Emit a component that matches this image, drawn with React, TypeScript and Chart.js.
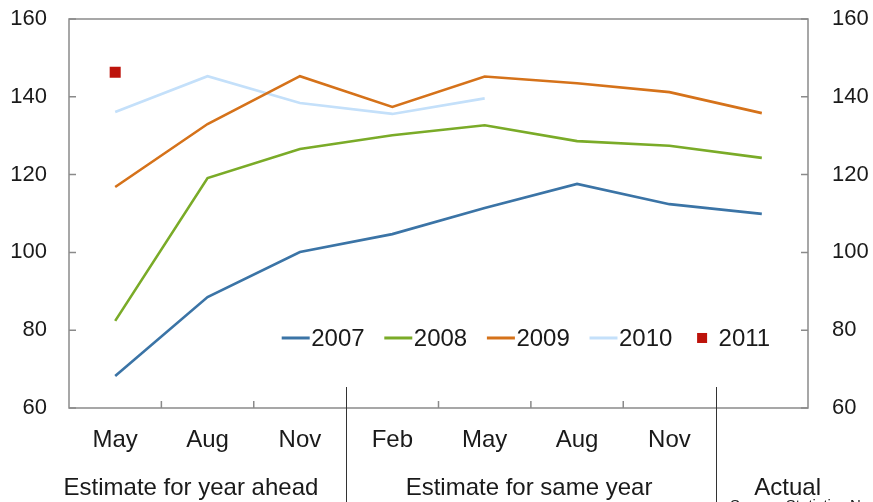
import React, { useEffect, useRef } from 'react';
import { Chart, registerables } from 'chart.js';

Chart.register(...registerables);

const categories = ['May', 'Aug', 'Nov', 'Feb', 'May', 'Aug', 'Nov', ''];
const groupLabels = ['Estimate for year ahead', 'Estimate for same year', 'Actual'];
const groupCenters = [0.82, 4.48, 7.28];
const dividers = [2.5, 6.5];
const yTicks = [60, 80, 100, 120, 140, 160];

const seriesNames = ['2007', '2008', '2009', '2010', '2011'];
const s2007 = [68.2, 88.5, 100.1, 104.7, 111.4, 117.6, 112.4, 109.9];
const s2008 = [82.4, 119.1, 126.6, 130.1, 132.7, 128.6, 127.4, 124.3];
const s2009 = [116.8, 133.0, 145.3, 137.4, 145.2, 143.5, 141.2, 135.8];
const s2010 = [136.1, 145.3, 138.4, 135.6, 139.6, null, null, null];
const s2011 = [146.3, null, null, null, null, null, null, null];
const colors = ['#3b74a6', '#7aab28', '#d5721a', '#c4e0fa', '#bd130b'];

const FONT = '"Liberation Sans", Arial, sans-serif';
const TEXT = '#1a1a1a';
const AXIS = '#8a8a8a';

const decorPlugin = {
  id: 'decor',
  beforeDatasetsDraw(chart: any) {
    const { ctx, chartArea } = chart;
    const { left, right, top, bottom } = chartArea;
    const xs = chart.scales.x;
    const ys = chart.scales.y;
    ctx.save();
    ctx.strokeStyle = AXIS;
    ctx.lineWidth = 1.5;
    ctx.strokeRect(left, top, right - left, bottom - top);
    ctx.beginPath();
    for (const t of yTicks) {
      const py = ys.getPixelForValue(t);
      ctx.moveTo(left, py);
      ctx.lineTo(left + 7, py);
      ctx.moveTo(right, py);
      ctx.lineTo(right - 7, py);
    }
    for (let i = 0; i < categories.length - 1; i++) {
      const b = i + 0.5;
      if (dividers.includes(b)) continue;
      const px = xs.getPixelForValue(b);
      ctx.moveTo(px, bottom);
      ctx.lineTo(px, bottom - 7);
    }
    ctx.stroke();
    ctx.restore();
  },
  afterDraw(chart: any) {
    const { ctx, chartArea, height } = chart;
    const { bottom } = chartArea;
    const xs = chart.scales.x;
    const ys = chart.scales.y;
    ctx.save();
    // dividers
    ctx.strokeStyle = '#333333';
    ctx.lineWidth = 1;
    ctx.beginPath();
    for (const d of dividers) {
      const px = Math.round(xs.getPixelForValue(d)) + 0.5;
      ctx.moveTo(px, bottom - 21);
      ctx.lineTo(px, height);
    }
    ctx.stroke();
    // group labels
    ctx.fillStyle = TEXT;
    ctx.font = `24px ${FONT}`;
    ctx.textAlign = 'center';
    ctx.textBaseline = 'alphabetic';
    groupLabels.forEach((g, i) => {
      ctx.fillText(g, xs.getPixelForValue(groupCenters[i]), 495);
    });
    // legend
    const ly = ys.getPixelForValue(78);
    ctx.textAlign = 'left';
    ctx.textBaseline = 'middle';
    seriesNames.forEach((name, i) => {
      const x0 = 281.7 + 102.6 * i;
      if (i < 4) {
        ctx.strokeStyle = colors[i];
        ctx.lineWidth = 3;
        ctx.beginPath();
        ctx.moveTo(x0, ly);
        ctx.lineTo(x0 + 28, ly);
        ctx.stroke();
        ctx.fillStyle = TEXT;
        ctx.fillText(name, x0 + 29.5, ly + 1);
      } else {
        ctx.fillStyle = colors[i];
        ctx.fillRect(x0 + 5, ly - 5, 10, 10);
        ctx.fillStyle = TEXT;
        ctx.fillText(name, x0 + 26.5, ly + 1);
      }
    });
    // source
    ctx.font = `15px ${FONT}`;
    ctx.textBaseline = 'top';
    ctx.fillStyle = TEXT;
    ctx.fillText('Source: Statistics Norway', 730, 498.5);
    ctx.restore();
  },
};

export default function App() {
  const ref = useRef<HTMLCanvasElement>(null);
  useEffect(() => {
    if (!ref.current) return;
    const mk = (data: (number | null)[], i: number, line = true) => ({
      label: seriesNames[i],
      data,
      borderColor: colors[i],
      backgroundColor: colors[i],
      borderWidth: 2.6,
      pointRadius: line ? 0 : 7.8,
      pointStyle: 'rect',
      pointBorderWidth: 0,
      showLine: line,
      spanGaps: false,
      tension: 0,
    });
    const chart = new Chart(ref.current, {
      type: 'line',
      data: {
        labels: categories,
        datasets: [
          mk(s2007, 0),
          mk(s2008, 1),
          mk(s2009, 2),
          mk(s2010, 3),
          mk(s2011, 4, false),
        ],
      },
      options: {
        animation: false,
        responsive: false,
        devicePixelRatio: 1,
        layout: { padding: { top: 19, left: 0, right: 0, bottom: 0 } },
        plugins: { legend: { display: false }, tooltip: { enabled: false } },
        scales: {
          x: {
            type: 'category',
            offset: true,
            grid: { display: false, drawTicks: false },
            border: { display: false },
            ticks: { font: { family: FONT, size: 24 }, color: TEXT, padding: 18, maxRotation: 0, autoSkip: false },
            afterFit(s: any) {
              s.height = 94;
              s.paddingLeft = 0;
              s.paddingRight = 0;
            },
          },
          y: {
            position: 'left',
            min: 60,
            max: 160,
            grid: { display: false, drawTicks: false },
            border: { display: false },
            ticks: { stepSize: 20, font: { family: FONT, size: 22 }, color: TEXT, padding: 22 },
            afterFit(s: any) {
              s.width = 69;
              s.paddingTop = 0;
              s.paddingBottom = 0;
            },
          },
          y2: {
            position: 'right',
            min: 60,
            max: 160,
            grid: { display: false, drawTicks: false },
            border: { display: false },
            ticks: { stepSize: 20, font: { family: FONT, size: 22 }, color: TEXT, padding: 24 },
            afterFit(s: any) {
              s.width = 65;
              s.paddingTop = 0;
              s.paddingBottom = 0;
            },
          },
        },
      },
      plugins: [decorPlugin],
    } as any);
    return () => chart.destroy();
  }, []);
  return (
    <div style={{ position: 'absolute', left: 0, top: 0, width: 873, height: 502, background: '#fff' }}>
      <canvas ref={ref} width={873} height={502} style={{ display: 'block' }} />
    </div>
  );
}
